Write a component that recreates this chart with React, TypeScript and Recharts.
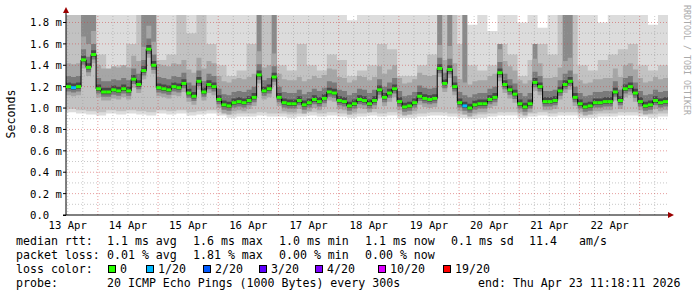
import React from 'react';
import { ComposedChart, Area, Line, XAxis, YAxis, ReferenceLine } from 'recharts';

// ---- data (hours since Apr 13 11:18, one median every 2 h) ----
const medianRtt = [
  1.20, 1.19, 1.20, 1.45, 1.38, 1.50, 1.18, 1.15, 1.15, 1.17,
  1.16, 1.18, 1.16, 1.27, 1.22, 1.35, 1.55, 1.40, 1.19, 1.18,
  1.17, 1.20, 1.19, 1.23, 1.14, 1.11, 1.25, 1.15, 1.22, 1.20,
  1.08, 1.03, 1.02, 1.05, 1.06, 1.05, 1.07, 1.10, 1.31, 1.16,
  1.18, 1.29, 1.10, 1.05, 1.04, 1.04, 1.07, 1.03, 1.05, 1.08,
  1.06, 1.09, 1.15, 1.14, 1.07, 1.06, 1.02, 1.04, 1.08, 1.07,
  1.04, 1.07, 1.17, 1.10, 1.14, 1.18, 1.06, 1.01, 1.02, 1.05,
  1.11, 1.09, 1.08, 1.09, 1.37, 1.23, 1.36, 1.20, 1.05, 1.02,
  1.00, 1.03, 1.04, 1.04, 1.08, 1.10, 1.33, 1.22, 1.17, 1.13,
  1.04, 1.01, 1.04, 1.24, 1.20, 1.06, 1.06, 1.07, 1.16, 1.22,
  1.25, 1.10, 1.04, 1.01, 1.02, 1.05, 1.05, 1.06, 1.06, 1.15,
  1.07, 1.18, 1.20, 1.14, 1.06, 1.02, 1.03, 1.07, 1.05, 1.06,
  1.06,
];
const sampleHours = 2;

const lossEvents = [
  { hour: 2, loss: 1 },
  { hour: 158, loss: 1 },
];

// smoke envelope, one value per 4 h block
const smokeBlockHours = 4;
const smokeFloor = [
  0.96, 0.95, 0.94, 0.93, 0.95, 0.94, 0.95, 0.94, 0.93, 0.95,
  0.94, 0.95, 0.93, 0.94, 0.95, 0.93, 0.91, 0.92, 0.92, 0.93,
  0.92, 0.92, 0.91, 0.92, 0.93, 0.92, 0.93, 0.92, 0.91, 0.92,
  0.93, 0.92, 0.93, 0.91, 0.91, 0.92, 0.93, 0.93, 0.92, 0.91,
  0.90, 0.91, 0.92, 0.93, 0.93, 0.91, 0.92, 0.93, 0.92, 0.93,
  0.93, 0.91, 0.91, 0.92, 0.92, 0.93, 0.93, 0.92, 0.91, 0.92,
];
const smokeCeil = [
  1.87, 1.87, 1.87, 1.87, 1.87, 1.87, 1.87, 1.87, 1.87, 1.87,
  1.87, 1.87, 1.87, 1.87, 1.87, 1.87, 1.87, 1.87, 1.87, 1.87,
  1.87, 1.87, 1.87, 1.87, 1.87, 1.87, 1.87, 1.87, 1.82, 1.87,
  1.87, 1.87, 1.87, 1.87, 1.87, 1.87, 1.87, 1.87, 1.87, 1.87,
  1.78, 1.87, 1.72, 1.87, 1.87, 1.80, 1.87, 1.75, 1.87, 1.87,
  1.87, 1.87, 1.87, 1.80, 1.87, 1.87, 1.87, 1.87, 1.78, 1.87,
];
const greyCeil = [
  1.87, 1.87, 1.87, 1.50, 1.35, 1.40, 1.60, 1.87, 1.87, 1.45,
  1.50, 1.87, 1.70, 1.87, 1.60, 1.40, 1.30, 1.35, 1.60, 1.87,
  1.87, 1.40, 1.35, 1.60, 1.40, 1.35, 1.50, 1.45, 1.30, 1.35,
  1.40, 1.60, 1.55, 1.30, 1.30, 1.40, 1.50, 1.87, 1.87, 1.60,
  1.40, 1.35, 1.40, 1.60, 1.50, 1.30, 1.45, 1.60, 1.50, 1.87,
  1.87, 1.40, 1.35, 1.45, 1.50, 1.55, 1.60, 1.40, 1.35, 1.40,
];
const darkStrips = [
  { hour: 6, top: 1.87 }, { hour: 8, top: 1.87 }, { hour: 10, top: 1.87 },
  { hour: 30, top: 1.87 }, { hour: 32, top: 1.87 }, { hour: 34, top: 1.87 },
  { hour: 76, top: 1.87 }, { hour: 82, top: 1.87 },
  { hour: 148, top: 1.87 }, { hour: 152, top: 1.87 }, { hour: 158, top: 1.87 },
  { hour: 172, top: 1.6 }, { hour: 186, top: 1.6 },
  { hour: 198, top: 1.87 }, { hour: 200, top: 1.87 },
];

const dayLabels = ['13 Apr', '14 Apr', '15 Apr', '16 Apr', '17 Apr', '18 Apr', '19 Apr', '20 Apr', '21 Apr', '22 Apr'];
const dayLabelHours = [0.7, 24.7, 48.7, 72.7, 96.7, 120.7, 144.7, 168.7, 192.7, 216.7];
const midnightHours = [12.7, 36.7, 60.7, 84.7, 108.7, 132.7, 156.7, 180.7, 204.7, 228.7];
const sixHourHours = Array.from({ length: 40 }, (_, i) => 0.7 + 6 * i).filter(
  (h) => !midnightHours.some((m) => Math.abs(m - h) < 0.01)
);
const yTicks = [0, 0.2, 0.4, 0.6, 0.8, 1.0, 1.2, 1.4, 1.6, 1.8];
const yMinor = [0.1, 0.3, 0.5, 0.7, 0.9, 1.1, 1.3, 1.5, 1.7];

const lossLegend = [
  { label: '0', color: '#26ff00', n: 0 },
  { label: '1/20', color: '#00b8ff', n: 1 },
  { label: '2/20', color: '#0059ff', n: 2 },
  { label: '3/20', color: '#5e00ff', n: 3 },
  { label: '4/20', color: '#7e00ff', n: 4 },
  { label: '10/20', color: '#dd00ff', n: 10 },
  { label: '19/20', color: '#ff0000', n: 19 },
];

// ---- layout constants ----
const W = 697;
const H = 297;
const PLOT_L = 66;
const PLOT_R = 668;
const PLOT_T = 15;
const PLOT_B = 215;
const X_MAX = 240;
const Y_MAX = 1.87;
const STEP_PX = ((PLOT_R - PLOT_L) / X_MAX) * sampleHours;
const MONO = '"DejaVu Sans Mono", monospace';

function lossColor(n: number) {
  let c = lossLegend[0].color;
  for (const l of lossLegend) if (n >= l.n) c = l.color;
  return c;
}

const data = medianRtt.map((m, k) => {
  const hour = k * sampleHours;
  const j = Math.min(Math.floor(hour / smokeBlockHours), smokeFloor.length - 1);
  const ev = lossEvents.find((e) => e.hour === hour);
  const st = darkStrips.find((s) => s.hour === hour);
  return {
    hour,
    median: m,
    loss: ev ? ev.loss : 0,
    outer: [smokeFloor[j], smokeCeil[j]],
    grey: [smokeFloor[j] + 0.03, greyCeil[j]],
    strip: [m, st ? st.top : m],
    band1: [m - 0.08, m + 0.22],
    band2: [m - 0.045, m + 0.1],
    band3: [m - 0.02, m + 0.04],
  };
});

const MedianDot = (props: any) => {
  const { cx, cy, index, payload } = props;
  if (cx == null || cy == null || index === data.length - 1) return <g key={`d${index}`} />;
  return (
    <rect key={`d${index}`} x={cx} y={cy - 1.5} width={STEP_PX} height={3} fill={lossColor(payload.loss)} />
  );
};

const YTick = (props: any) => {
  const { y, payload } = props;
  const v = payload.value as number;
  const label = v === 0 ? '0.0' : `${v.toFixed(1)} m`;
  return (
    <text x={30} y={y + 4} fontFamily={MONO} fontSize={10.6} fill="#000">
      {label}
    </text>
  );
};

const XTick = (props: any) => {
  const { x, payload } = props;
  const i = dayLabelHours.indexOf(payload.value);
  return (
    <text x={x} y={PLOT_B + 14} textAnchor="middle" fontFamily={MONO} fontSize={10.6} fill="#000">
      {dayLabels[i]}
    </text>
  );
};

const areaCommon = {
  type: 'stepAfter' as const,
  stroke: 'none',
  fillOpacity: 1,
  isAnimationActive: false,
  dot: false,
  activeDot: false,
};

const minorStroke = { stroke: '#9a9a9a', strokeOpacity: 0.55, strokeDasharray: '1 2' };
const majorStroke = { stroke: '#d04040', strokeOpacity: 0.5, strokeDasharray: '1 2' };

const legendLine1 = [
  { x: 16, t: 'median rtt:' },
  { x: 107, t: '1.1 ms avg' },
  { x: 193, t: '1.6 ms max' },
  { x: 279, t: '1.0 ms min' },
  { x: 365, t: '1.1 ms now' },
  { x: 451, t: '0.1 ms sd' },
  { x: 529, t: '11.4' },
  { x: 579, t: 'am/s' },
];
const legendLine2 = [
  { x: 16, t: 'packet loss:' },
  { x: 107, t: '0.01 % avg' },
  { x: 193, t: '1.81 % max' },
  { x: 279, t: '0.00 % min' },
  { x: 365, t: '0.00 % now' },
];
const lossBoxX = [108, 146, 203, 259, 315, 378, 443];
const legendLine4 = [
  { x: 16, t: 'probe:' },
  { x: 107, t: '20 ICMP Echo Pings (1000 Bytes) every 300s' },
  { x: 478, t: 'end: Thu Apr 23 11:18:11 2026' },
];

export default function App() {
  const txt = { fontFamily: MONO, fontSize: 11.6, fill: '#000' };
  return (
    <div style={{ position: 'absolute', left: 0, top: 0, width: W, height: H, background: '#fff' }}>
      <ComposedChart
        width={W}
        height={H}
        data={data}
        margin={{ top: PLOT_T, right: W - PLOT_R, left: 0, bottom: 0 }}
      >
        <XAxis
          dataKey="hour"
          type="number"
          domain={[0, X_MAX]}
          ticks={dayLabelHours}
          interval={0}
          height={H - PLOT_B}
          tick={XTick}
          tickLine={false}
          tickSize={0}
          axisLine={{ stroke: '#000' }}
          allowDataOverflow
        />
        <YAxis
          type="number"
          domain={[0, Y_MAX]}
          ticks={yTicks}
          interval={0}
          width={PLOT_L}
          tick={YTick}
          tickSize={3}
          tickLine={{ stroke: '#000' }}
          axisLine={{ stroke: '#000' }}
          allowDataOverflow
        />
        <Area dataKey="outer" fill="#dcdcdc" {...areaCommon} />
        <Area dataKey="grey" fill="#c2c2c2" {...areaCommon} />
        <Area dataKey="strip" fill="#8a8a8a" {...areaCommon} />
        <Area dataKey="band1" fill="#a6a6a6" {...areaCommon} />
        <Area dataKey="band2" fill="#7a7a7a" {...areaCommon} />
        <Area dataKey="band3" fill="#484848" {...areaCommon} />
        {yMinor.map((v) => (
          <ReferenceLine key={`ym${v}`} y={v} {...minorStroke} />
        ))}
        {sixHourHours.map((h) => (
          <ReferenceLine key={`xm${h}`} x={h} {...minorStroke} />
        ))}
        {yTicks.filter((v) => v > 0).map((v) => (
          <ReferenceLine key={`yM${v}`} y={v} {...majorStroke} />
        ))}
        {midnightHours.map((h) => (
          <ReferenceLine key={`xM${h}`} x={h} {...majorStroke} />
        ))}
        <Line
          dataKey="median"
          type="stepAfter"
          stroke="#000"
          strokeWidth={1}
          dot={MedianDot}
          activeDot={false}
          isAnimationActive={false}
        />
      </ComposedChart>
      <svg
        width={W}
        height={H}
        style={{ position: 'absolute', left: 0, top: 0, pointerEvents: 'none' }}
      >
        <line x1={PLOT_L} y1={PLOT_T} x2={PLOT_L} y2={10} stroke="#000" />
        <line x1={PLOT_L - 3} y1={PLOT_B + 0.5} x2={PLOT_L} y2={PLOT_B + 0.5} stroke="#000" />
        <polygon points={`${PLOT_L - 3},13 ${PLOT_L + 3},13 ${PLOT_L},7`} fill="#9b0000" />
        <polygon points={`${PLOT_R},${PLOT_B - 3} ${PLOT_R},${PLOT_B + 3} ${PLOT_R + 6},${PLOT_B}`} fill="#9b0000" />
        <text transform="translate(15,114) rotate(-90)" textAnchor="middle" {...txt}>
          Seconds
        </text>
        <text transform="translate(684,5) rotate(90)" fontFamily={MONO} fontSize={8.3} fill="#aaaaaa">
          RRDTOOL / TOBI OETIKER
        </text>
        {legendLine1.map((s) => (
          <text key={`l1${s.x}`} x={s.x} y={245} {...txt}>{s.t}</text>
        ))}
        {legendLine2.map((s) => (
          <text key={`l2${s.x}`} x={s.x} y={259} {...txt}>{s.t}</text>
        ))}
        <text x={16} y={273} {...txt}>loss color:</text>
        {lossLegend.map((l, i) => (
          <g key={`lc${i}`}>
            <rect x={lossBoxX[i] + 0.5} y={265.5} width={7} height={7} fill={l.color} stroke="#000" />
            <text x={lossBoxX[i] + 12} y={273} {...txt}>{l.label}</text>
          </g>
        ))}
        {legendLine4.map((s) => (
          <text key={`l4${s.x}`} x={s.x} y={287} {...txt} xmlSpace="preserve">{s.t}</text>
        ))}
      </svg>
    </div>
  );
}
